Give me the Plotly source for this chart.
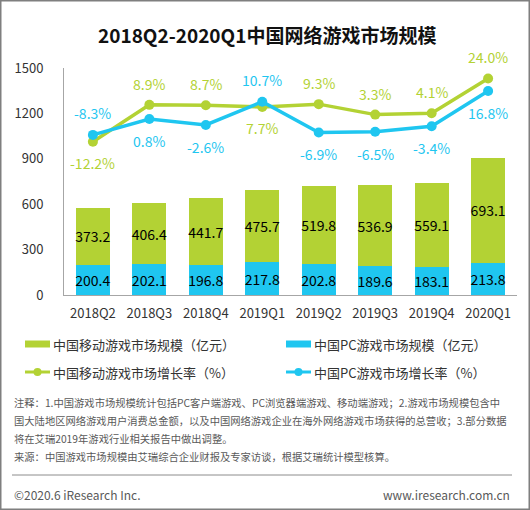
import plotly.graph_objects as go

categories = ['2018Q2', '2018Q3', '2018Q4', '2019Q1', '2019Q2', '2019Q3', '2019Q4', '2020Q1']
pc_size = [200.4, 202.1, 196.8, 217.8, 202.8, 189.6, 183.1, 213.8]
mobile_size = [373.2, 406.4, 441.7, 475.7, 519.8, 536.9, 559.1, 693.1]
mobile_growth = [-12.2, 8.9, 8.7, 7.7, 9.3, 3.3, 4.1, 24.0]
pc_growth = [-8.3, 0.8, -2.6, 10.7, -6.9, -6.5, -3.4, 16.8]
mobile_label_pos = [-1, 1, 1, -1, 1, 1, 1, 1]
pc_label_pos = [1, -1, -1, 1, -1, -1, -1, -1]
y_ticks = [0, 300, 600, 900, 1200, 1500]

GREEN = '#b3d234'
BLUE = '#1fc6f0'
FONT = 'Noto Sans CJK SC'

W, H = 530, 510
L, R, T, B = 64, 517, 68, 295

def px(x):
    return (x - L) / (R - L)

def py(y):
    return (B - y) / (B - T)

fig = go.Figure()
fig.add_trace(go.Bar(x=categories, y=pc_size, marker_color=BLUE, marker_line_width=0,
                     text=[f'{v:.1f}' for v in pc_size], textposition='inside', textangle=0,
                     insidetextanchor='middle', constraintext='none',
                     textfont=dict(color='#000000', size=14, family=FONT), yaxis='y'))
fig.add_trace(go.Bar(x=categories, y=mobile_size, marker_color=GREEN, marker_line_width=0,
                     text=[f'{v:.1f}' for v in mobile_size], textposition='inside', textangle=0,
                     insidetextanchor='middle', constraintext='none',
                     textfont=dict(color='#000000', size=14, family=FONT), yaxis='y'))
fig.add_trace(go.Scatter(x=categories, y=mobile_growth, mode='lines+markers', yaxis='y2',
                         line=dict(color=GREEN, width=3.5), marker=dict(size=10, color=GREEN)))
fig.add_trace(go.Scatter(x=categories, y=pc_growth, mode='lines+markers', yaxis='y2',
                         line=dict(color=BLUE, width=3.5), marker=dict(size=10, color=BLUE)))

annotations = []
for c, v, p in zip(categories, mobile_growth, mobile_label_pos):
    annotations.append(dict(x=c, y=v, xref='x', yref='y2', text=f'{v:.1f}%', showarrow=False,
                            yshift=21 * p, font=dict(color=GREEN, size=14, family=FONT)))
for c, v, p in zip(categories, pc_growth, pc_label_pos):
    annotations.append(dict(x=c, y=v, xref='x', yref='y2', text=f'{v:.1f}%', showarrow=False,
                            yshift=22 * p, font=dict(color=BLUE, size=14, family=FONT)))

# title
annotations.append(dict(x=px(267), y=py(35), xref='paper', yref='paper', showarrow=False,
                        xanchor='center', yanchor='middle',
                        text='<b>2018Q2-2020Q1中国网络游戏市场规模</b>',
                        font=dict(size=19, color='#111111', family=FONT)))

# legend (manual)
legend_items = [
    ('bar', GREEN, '中国移动游戏市场规模（亿元）', 25, 344),
    ('bar', BLUE, '中国PC游戏市场规模（亿元）', 286, 344),
    ('line', GREEN, '中国移动游戏市场增长率（%）', 25, 372),
    ('line', BLUE, '中国PC游戏市场增长率（%）', 286, 372),
]
shapes = []
for kind, col, label, x0, yc in legend_items:
    if kind == 'bar':
        shapes.append(dict(type='rect', xref='paper', yref='paper', x0=px(x0), x1=px(x0 + 25),
                           y0=py(yc - 3.5), y1=py(yc + 3.5), fillcolor=col, line_width=0))
    else:
        shapes.append(dict(type='line', xref='paper', yref='paper', x0=px(x0), x1=px(x0 + 25),
                           y0=py(yc), y1=py(yc), line=dict(color=col, width=3)))
        shapes.append(dict(type='circle', xref='paper', yref='paper', x0=px(x0 + 8.5), x1=px(x0 + 16.5),
                           y0=py(yc - 4), y1=py(yc + 4), fillcolor=col, line_width=0))
    annotations.append(dict(x=px(x0 + 26), y=py(yc), xref='paper', yref='paper', showarrow=False,
                            xanchor='left', yanchor='middle', text=label,
                            font=dict(size=13, color='#333333', family=FONT)))

notes = [
    '注释：1.中国游戏市场规模统计包括PC客户端游戏、PC浏览器端游戏、移动端游戏；2.游戏市场规模包含中',
    '国大陆地区网络游戏用户消费总金额，以及中国网络游戏企业在海外网络游戏市场获得的总营收；3.部分数据',
    '将在艾瑞2019年游戏行业相关报告中做出调整。',
    '来源：中国游戏市场规模由艾瑞综合企业财报及专家访谈，根据艾瑞统计模型核算。',
]
for i, t in enumerate(notes):
    annotations.append(dict(x=px(12), y=py(402 + i * 18), xref='paper', yref='paper', showarrow=False,
                            xanchor='left', yanchor='middle', text=t,
                            font=dict(size=10.3, color='#595959', family=FONT)))

shapes.append(dict(type='line', xref='paper', yref='paper', x0=px(12), x1=px(512),
                   y0=py(475), y1=py(475), line=dict(color='#8c8c8c', width=1)))
annotations.append(dict(x=px(12), y=py(494), xref='paper', yref='paper', showarrow=False,
                        xanchor='left', yanchor='middle', text='©2020.6 iResearch Inc.',
                        font=dict(size=12, color='#595959', family=FONT)))
annotations.append(dict(x=px(512), y=py(494), xref='paper', yref='paper', showarrow=False,
                        xanchor='right', yanchor='middle', text='www.iresearch.com.cn',
                        font=dict(size=12, color='#595959', family=FONT)))

# outer frame
shapes.append(dict(type='rect', xref='paper', yref='paper', x0=px(0.75), x1=px(529.25),
                   y0=py(0.75), y1=py(509.25), line=dict(color='#7f7f7f', width=1.5)))

fig.update_layout(
    width=W, height=H, barmode='stack', bargap=0.4, showlegend=False,
    margin=dict(l=L, r=W - R, t=T, b=H - B, pad=0),
    paper_bgcolor='white', plot_bgcolor='white',
    font=dict(family=FONT, color='#333333'),
    xaxis=dict(showline=True, linecolor='#a6a6a6', linewidth=1, showgrid=False, ticks='',
               tickfont=dict(size=13, color='#333333'), ticklabelstandoff=6),
    yaxis=dict(range=[0, 1500], tickvals=y_ticks, showline=True, linecolor='#a6a6a6', linewidth=1,
               showgrid=False, zeroline=False, ticks='', tickfont=dict(size=13, color='#333333'),
               ticklabelstandoff=17),
    yaxis2=dict(range=[-100, 30], overlaying='y', visible=False),
    annotations=annotations, shapes=shapes,
)

fig.write_html('out.html', config={'displayModeBar': False},
               post_script="document.body.style.margin='0';document.body.style.overflow='hidden';")
